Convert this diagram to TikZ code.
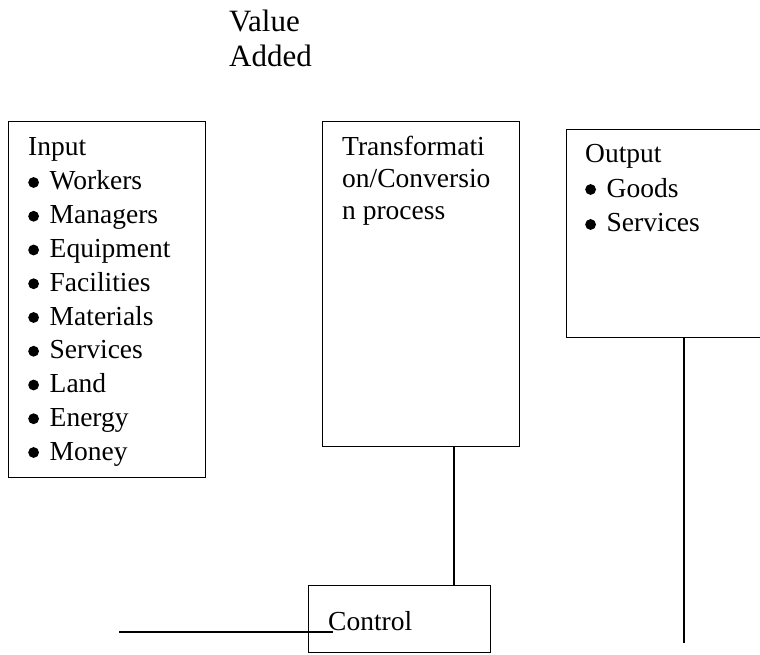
\documentclass[tikz,border=0pt]{standalone}
\usepackage{fontspec}
\setmainfont{Liberation Serif}
\definecolor{DiagInk}{HTML}{000000}
\newcommand{\bul}{\makebox[21.5pt][l]{\tikz[baseline=0pt]\fill[DiagInk] (5pt,7.5pt) circle (5.4pt);}}

\begin{document}
\begin{tikzpicture}[x=1pt,y=-1pt,
    box/.style={draw=DiagInk,line width=1.3pt,anchor=north west,inner sep=0pt},
    txt/.style={anchor=base west,inner sep=0pt,text=DiagInk,
      font=\fontsize{27.5}{33.7}\selectfont},
    bigtxt/.style={txt,font=\fontsize{31}{35}\selectfont},
    link/.style={draw=DiagInk,line width=1.3pt}]
    \useasboundingbox (0,0) rectangle (760,655);
    \clip (0,0) rectangle (760,655);

    % boxes
    \node[box,minimum width=197pt,minimum height=356pt] (input) at (8,121) {};
    \node[box,minimum width=197pt,minimum height=325pt] (trans) at (322,121) {};
    \node[box,minimum width=220pt,minimum height=208pt] (output) at (566,129) {};
    \node[box,minimum width=182pt,minimum height=67pt] (ctrl) at (308,585) {};

    % texts
    \node[bigtxt] (value) at (229,32) {Value};
    \node[bigtxt] (added) at (229,67) {Added};

    \node[txt] (inhead) at (28,156) {Input};
    \foreach \name [count=\i from 0] in
      {Workers,Managers,Equipment,Facilities,Materials,Services,Land,Energy,Money}
      \node[txt] (in\i) at (28,{190+\i*33.75}) {\bul\name};

    \node[txt] (trans1) at (342,156) {Transformati};
    \node[txt] (trans2) at (342,187.5) {on/Conversio};
    \node[txt] (trans3) at (342,219) {n process};

    \node[txt] (outhead) at (585,163) {Output};
    \node[txt] (out1) at (585,197) {\bul Goods};
    \node[txt] (out2) at (585,232) {\bul Services};

    \node[txt] (ctrltxt) at (328,630) {Control};

    % connectors
    \coordinate (outend) at (684,643);
    \coordinate (fbL) at (119,632);
    \coordinate (fbR) at (333,632);
    \draw[link] ([xshift=132pt]trans.south west) -- ([xshift=146pt]ctrl.north west);
    \draw[link] ([xshift=118pt]output.south west) -- (outend);
    \draw[link] (fbL) -- (fbR);
  \end{tikzpicture}
\end{document}
